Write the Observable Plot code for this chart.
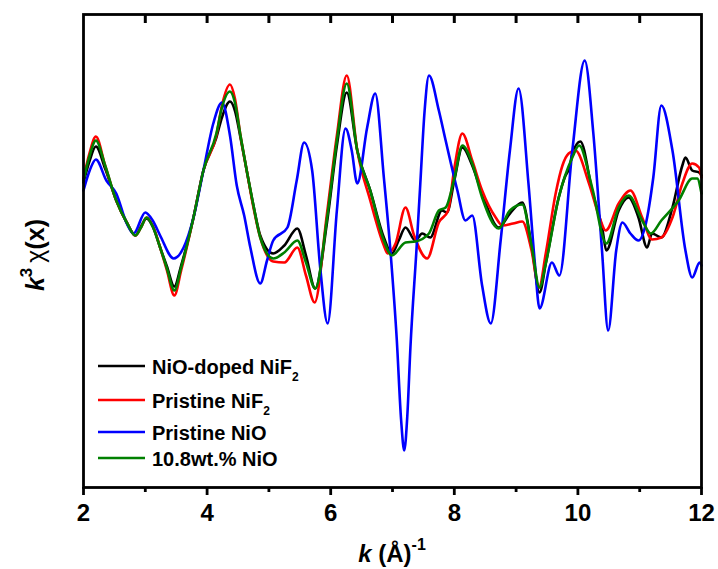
<!DOCTYPE html>
<html><head><meta charset="utf-8">
<script src="https://cdn.jsdelivr.net/npm/d3@7"></script>
<script src="https://cdn.jsdelivr.net/npm/@observablehq/plot@0.6"></script>
<style>
html,body{margin:0;padding:0;background:#fff;}
#chart{width:718px;height:569px;}
</style></head><body><div id="chart"></div>
<script>
// ---- data (k in 1/Å, k^3 chi in arbitrary units) ----
const kBlack = [2.00,2.10,2.20,2.35,2.53,2.70,2.84,2.93,3.02,3.12,3.24,3.35,3.47,3.58,3.78,3.94,4.15,4.24,4.37,4.45,4.54,4.65,4.75,4.86,5.07,5.25,5.46,5.60,5.75,5.94,6.10,6.26,6.43,6.64,6.86,6.99,7.10,7.21,7.37,7.48,7.61,7.80,7.88,8.00,8.13,8.29,8.45,8.72,8.90,9.10,9.25,9.38,9.48,9.69,9.80,9.86,9.91,10.04,10.23,10.40,10.46,10.66,10.82,10.98,11.12,11.20,11.35,11.53,11.69,11.74,11.85,11.96,12.00];
const chiBlack = [6.8,9.0,10.4,8.2,5.0,2.8,1.5,2.4,3.2,2.4,0.3,-1.6,-3.6,-1.5,3.3,8.0,11.3,13.3,14.9,14.0,11.3,7.7,4.5,1.5,-0.3,0.5,2.2,-0.5,-3.8,2.8,10.5,15.8,10.0,6.0,1.3,-0.3,1.0,2.3,1.0,1.7,1.3,4.0,3.8,7.0,10.3,8.5,5.7,2.3,3.7,4.8,0.5,-4.2,-1.3,5.3,7.5,8.2,9.7,10.9,6.0,2.0,0.0,4.0,5.3,3.3,0.3,1.7,1.3,4.3,8.5,9.3,8.0,7.8,7.5];

const kRed = [2.00,2.10,2.20,2.35,2.53,2.70,2.84,2.93,3.02,3.12,3.24,3.35,3.47,3.58,3.78,3.94,4.15,4.24,4.37,4.45,4.54,4.65,4.75,4.86,5.07,5.25,5.46,5.60,5.74,5.94,6.10,6.26,6.43,6.64,6.86,6.92,7.05,7.21,7.35,7.56,7.75,7.90,8.00,8.13,8.29,8.45,8.67,8.78,8.95,9.10,9.25,9.37,9.48,9.64,9.75,9.85,9.96,10.18,10.35,10.45,10.66,10.85,11.04,11.20,11.35,11.53,11.69,11.85,11.96,12.00];
const chiRed = [7.2,9.8,11.4,8.5,5.0,2.8,1.5,2.3,3.3,2.5,0.3,-2.0,-4.5,-2.0,3.3,8.0,11.5,14.5,16.6,15.2,11.5,7.7,4.3,1.3,-1.1,-1.2,0.3,-2.5,-5.2,3.7,11.5,17.5,10.0,5.0,0.5,-0.3,0.7,4.3,1.5,-0.8,2.8,4.0,8.2,11.7,9.0,6.0,3.3,2.5,2.7,2.9,0.0,-3.7,-0.3,5.7,8.5,9.7,10.0,6.7,3.3,2.0,4.7,6.0,3.3,1.1,1.3,3.3,6.7,8.7,8.3,7.3];

const kBlue = [2.00,2.10,2.20,2.37,2.53,2.70,2.81,3.00,3.12,3.24,3.46,3.62,3.78,3.94,4.10,4.24,4.37,4.48,4.60,4.70,4.86,4.97,5.07,5.30,5.45,5.57,5.70,5.83,5.95,6.10,6.24,6.34,6.43,6.59,6.72,6.86,6.97,7.07,7.14,7.19,7.24,7.29,7.39,7.45,7.52,7.59,7.75,7.86,8.05,8.18,8.29,8.45,8.59,8.75,8.90,9.04,9.20,9.30,9.38,9.58,9.70,9.91,10.11,10.25,10.39,10.49,10.62,10.72,10.85,10.98,11.10,11.22,11.35,11.53,11.74,11.85,11.97,12.00];
const chiBlue = [6.0,8.0,9.1,7.0,5.7,2.7,1.7,3.8,3.0,1.5,-0.8,0.3,3.3,8.0,12.7,14.8,11.5,6.5,3.5,0.3,-3.3,-1.0,1.0,2.3,7.0,10.8,8.0,-1.7,-7.3,4.0,12.2,10.0,6.7,12.3,15.7,7.3,-0.3,-9.0,-17.0,-20.0,-16.5,-9.7,0.3,6.7,14.0,17.5,14.0,11.0,6.0,3.0,3.5,-3.5,-7.3,1.0,10.0,16.2,6.7,-1.0,-5.8,-1.2,-2.5,10.0,19.0,11.7,0.0,-8.0,0.0,2.8,1.7,1.0,2.7,7.3,14.5,10.0,0.0,-2.7,-1.2,-1.5];

const kGreen = [2.00,2.10,2.20,2.35,2.53,2.70,2.84,2.93,3.02,3.12,3.24,3.35,3.47,3.58,3.78,3.94,4.15,4.24,4.37,4.45,4.54,4.65,4.75,4.86,5.07,5.25,5.46,5.60,5.75,5.94,6.10,6.26,6.43,6.64,6.86,6.99,7.21,7.37,7.59,7.75,7.86,8.00,8.13,8.29,8.45,8.72,8.90,9.10,9.25,9.38,9.48,9.69,9.91,10.02,10.23,10.46,10.66,10.82,11.04,11.18,11.35,11.63,11.85,11.93,12.00];
const chiGreen = [7.0,9.5,11.0,8.5,5.0,2.8,1.5,2.3,3.3,2.4,0.3,-1.8,-4.0,-1.7,3.3,8.0,11.7,14.3,15.9,14.8,11.5,7.7,4.5,1.3,-0.8,-0.2,1.0,-1.2,-3.8,3.2,11.0,16.7,10.0,6.0,1.0,-0.5,0.8,0.9,1.7,4.0,4.3,7.2,10.5,8.7,5.3,2.2,4.0,4.6,0.5,-3.7,-1.3,5.3,9.3,10.5,6.3,0.7,4.3,5.5,3.0,1.7,3.0,5.0,7.2,7.2,5.7];

const seriesNames = ["NiO-doped NiF", "Pristine NiF", "Pristine NiO", "10.8wt.% NiO"];
const seriesSub = ["2", "2", "", ""];
const seriesColors = ["#000000", "#ff0000", "#0000ff", "#008000"];
const xTicksMajor = [2, 4, 6, 8, 10, 12];
const xTicksMinor = [3, 5, 7, 9, 11];
const xTicksTop = [3, 4, 5, 6, 7, 8, 9, 10, 11];
const xDomain = [2, 12];
const yDomain = [-23.7, 23.6];

// ---- build tables ----
const seriesK = [kBlack, kRed, kBlue, kGreen];
const seriesChi = [chiBlack, chiRed, chiBlue, chiGreen];
const tables = seriesK.map((ks, i) => ks.map((k, j) => ({k, chi: seriesChi[i][j]})));

const FONT = "'Liberation Sans', Arial, Helvetica, sans-serif";
const W = 718, H = 569, MT = 14, MB = 82, ML = 83, MR = 17;
const topTickLen = 9; // px
const topTickData = (yDomain[1] - yDomain[0]) * topTickLen / (H - MT - MB);

const plot = Plot.plot({
  width: W,
  height: H,
  marginLeft: ML,
  marginRight: MR,
  marginTop: MT,
  marginBottom: MB,
  style: {fontFamily: FONT, background: "#fff", color: "#000", overflow: "visible"},
  x: {domain: xDomain},
  y: {domain: yDomain, axis: null},
  marks: [
    ...tables.map((t, i) => Plot.line(t, {x: "k", y: "chi", stroke: seriesColors[i], strokeWidth: 2.6, curve: "monotone-x"})),
    Plot.frame({stroke: "#000", strokeWidth: 2.8}),
    Plot.ruleX(xTicksTop, {x: d => d, y1: yDomain[1], y2: yDomain[1] - topTickData, stroke: "#000", strokeWidth: 3}),
    Plot.axisX({anchor: "bottom", ticks: xTicksMajor, tickSize: 8, strokeWidth: 2.8, tickPadding: 8,
      fontSize: 24, fontWeight: "bold", label: null, tickFormat: d3.format("d")}),
    Plot.axisX({anchor: "bottom", ticks: xTicksMinor, tickSize: 5, strokeWidth: 2.8, tickFormat: () => "", label: null})
  ]
});

document.getElementById("chart").appendChild(plot);

const svg = d3.select(plot);
const xs = plot.scale("x");
const xMid = (xs.apply(xDomain[0]) + xs.apply(xDomain[1])) / 2;

// x-axis title: k (Å)^-1
const xt = svg.append("text")
  .attr("x", xMid).attr("y", 562)
  .attr("text-anchor", "middle")
  .attr("font-family", FONT).attr("font-weight", "bold").attr("font-size", 24).attr("fill", "#000");
xt.append("tspan").attr("font-style", "italic").text("k");
xt.append("tspan").text(" (Å)");
xt.append("tspan").attr("font-size", 16).attr("dy", -12).text("-1");

// y-axis title: k^3 χ(x)
const yt = svg.append("text")
  .attr("transform", "translate(44,255) rotate(-90)")
  .attr("text-anchor", "middle")
  .attr("font-family", FONT).attr("font-weight", "bold").attr("font-size", 25).attr("fill", "#000");
yt.append("tspan").attr("font-style", "italic").text("k");
yt.append("tspan").attr("font-size", 17).attr("dy", -12).text("3");
yt.append("tspan").attr("dy", 12).attr("font-weight", "normal").text("\u2009χ");
yt.append("tspan").text("(x)");

// legend
const legendY = [366, 400, 432, 458];
const lg = svg.append("g");
seriesNames.forEach((name, i) => {
  const y = legendY[i];
  lg.append("line").attr("x1", 98).attr("x2", 145).attr("y1", y).attr("y2", y)
    .attr("stroke", seriesColors[i]).attr("stroke-width", 2.5);
  const t = lg.append("text").attr("x", 152).attr("y", y + 8)
    .attr("text-anchor", "start")
    .attr("font-family", FONT).attr("font-weight", "bold").attr("font-size", 20).attr("fill", "#000");
  t.append("tspan").text(name);
  if (seriesSub[i]) t.append("tspan").attr("font-size", 12).attr("dy", 7).text(seriesSub[i]);
});
</script></body></html>
